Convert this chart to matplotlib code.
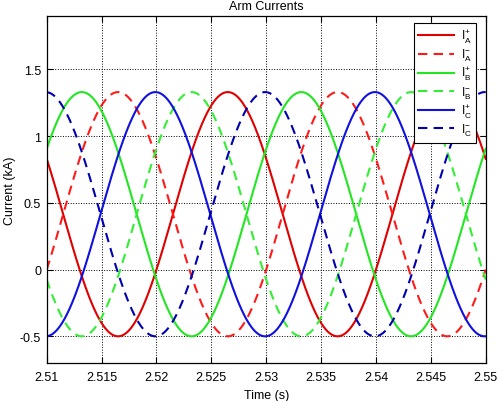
import numpy as np
import matplotlib.pyplot as plt

plt.rcParams['font.family'] = ['Liberation Sans', 'DejaVu Sans']
plt.rcParams['font.size'] = 9
plt.rcParams['mathtext.fontset'] = 'custom'
plt.rcParams['mathtext.rm'] = 'Liberation Sans'

# values: 50 Hz arm currents, offset + amplitude (kA)
freq = 50.0
offset = 0.415
amp = 0.915
t_start, t_end = 2.51, 2.55
# time of a crest for each arm current (s)
peak_times = [2.5265, 2.5365, 2.5132, 2.5232, 2.5199, 2.5299]
labels = [r'$\mathrm{I}_\mathrm{A}^\mathrm{+}$', r'$\mathrm{I}_\mathrm{A}^\mathrm{-}$',
          r'$\mathrm{I}_\mathrm{B}^\mathrm{+}$', r'$\mathrm{I}_\mathrm{B}^\mathrm{-}$',
          r'$\mathrm{I}_\mathrm{C}^\mathrm{+}$', r'$\mathrm{I}_\mathrm{C}^\mathrm{-}$']
colors = ['#e00000', '#ff1a1a', '#22e622', '#33ee33', '#1010e0', '#0000b0']
styles = ['-', '--', '-', '--', '-', '--']

xticks = [2.51, 2.515, 2.52, 2.525, 2.53, 2.535, 2.54, 2.545, 2.55]
xticklabels = ['2.51', '2.515', '2.52', '2.525', '2.53', '2.535', '2.54', '2.545', '2.55']
yticks = [-0.5, 0, 0.5, 1, 1.5]
yticklabels = ['-0.5', '0', '0.5', '1', '1.5']

t = np.linspace(t_start, t_end, 800)

fig = plt.figure(figsize=(4.98, 4.02), dpi=100)
ax = fig.add_axes([0.0938, 0.0945, 0.8815, 0.8632])

for tp, lab, c, ls in zip(peak_times, labels, colors, styles):
    i = offset + amp * np.cos(2 * np.pi * freq * (t - tp))
    line, = ax.plot(t, i, color=c, linestyle=ls, linewidth=1.5, label=lab)
    if ls == '--':
        line.set_dashes((4.5, 3))

ax.set_xlim(t_start, t_end)
ax.set_ylim(-0.7, 1.9)
ax.set_xticks(xticks)
ax.set_xticklabels(xticklabels)
ax.set_yticks(yticks)
ax.set_yticklabels(yticklabels)
ax.tick_params(direction='in', top=True, right=True, length=4, width=0.8)
ax.tick_params(axis='x', pad=6)
ax.tick_params(axis='y', pad=4)
ax.grid(True, linestyle=':', color='black', linewidth=0.7)
for s in ax.spines.values():
    s.set_linewidth(0.9)

ax.set_title('Arm Currents', fontsize=9, pad=5)
ax.set_xlabel('Time (s)', labelpad=4)
ax.set_ylabel('Current (kA)', labelpad=3)

leg = ax.legend(loc='upper right', fontsize=8.5, fancybox=False, framealpha=1,
                edgecolor='black', handlelength=3.0, borderaxespad=0.6,
                labelspacing=0.15, handletextpad=0.6, borderpad=0.4,
                bbox_to_anchor=(0.995, 1.0))
leg.get_frame().set_linewidth(0.8)

fig.savefig('out.png', dpi=100)
